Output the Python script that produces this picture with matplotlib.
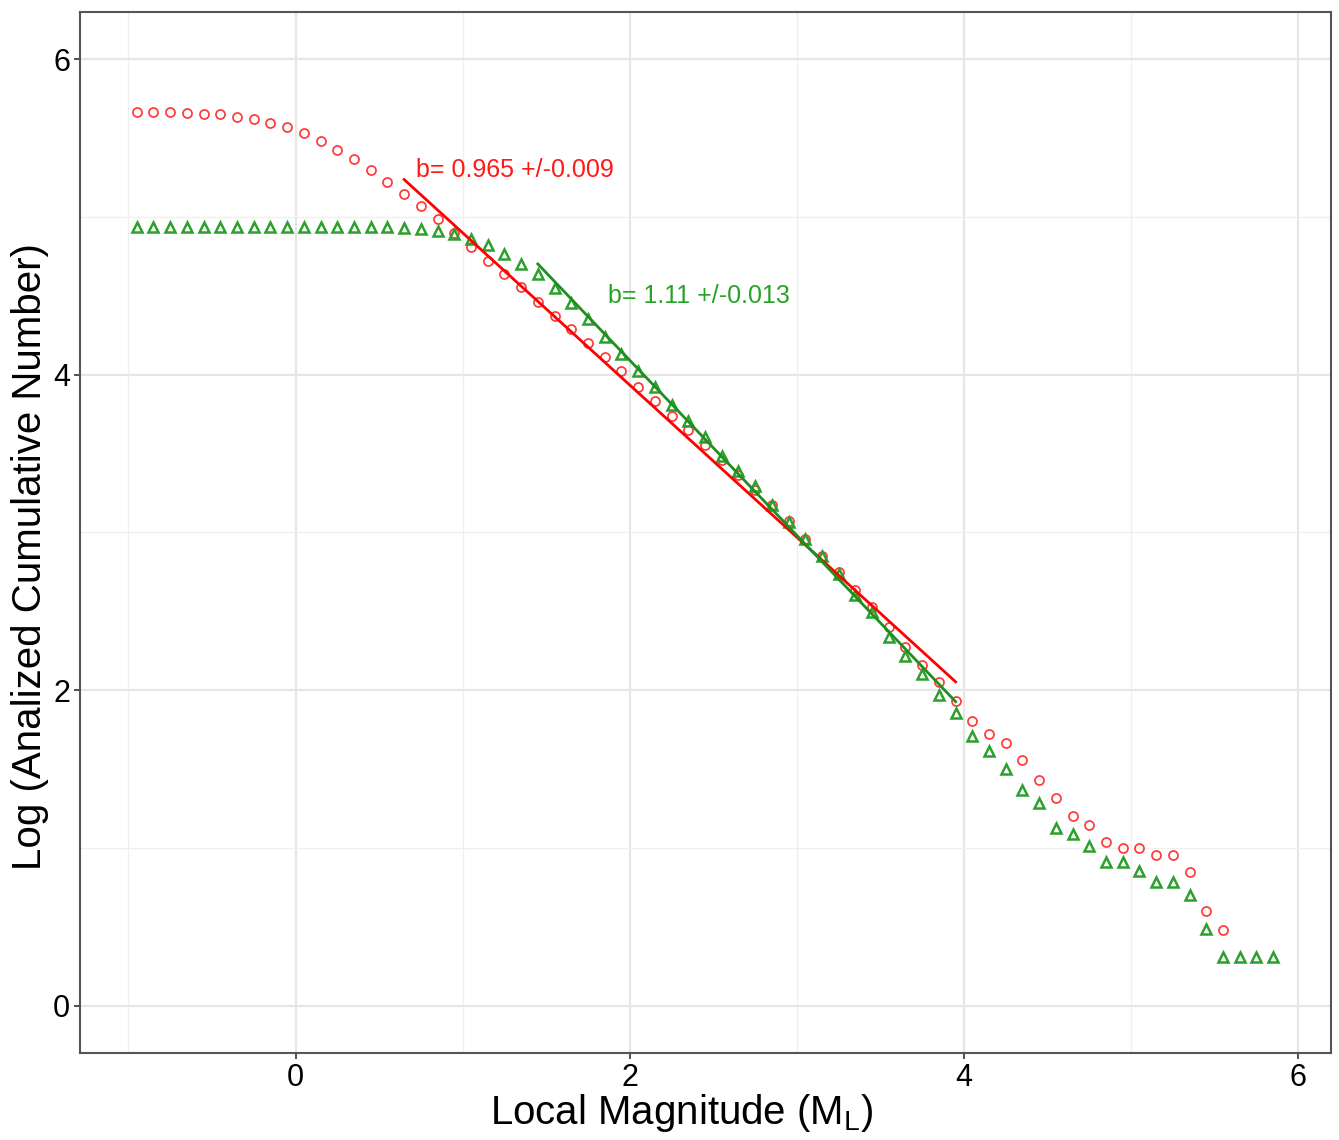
import numpy as np
import matplotlib
matplotlib.use("Agg")
import matplotlib.pyplot as plt

plt.rcParams['font.family'] = ['Liberation Sans', 'DejaVu Sans']
plt.rcParams['mathtext.fontset'] = 'custom'
plt.rcParams['mathtext.rm'] = 'Liberation Sans'

# ---------------- data ----------------
magnitude = [round(-0.95 + 0.1 * i, 2) for i in range(69)]  # -0.95 .. 5.85

red_log_n = [5.663, 5.665, 5.665, 5.660, 5.656, 5.650, 5.637, 5.620, 5.599, 5.570,
             5.532, 5.483, 5.426, 5.365, 5.297, 5.222, 5.146, 5.068, 4.987, 4.897,
             4.808, 4.723, 4.639, 4.555, 4.464, 4.375, 4.289, 4.201, 4.112, 4.021,
             3.922, 3.831, 3.741, 3.647, 3.557, 3.458, 3.367, 3.272, 3.173, 3.072,
             2.960, 2.850, 2.749, 2.633, 2.527, 2.400, 2.274, 2.160, 2.049, 1.930,
             1.806, 1.720, 1.665, 1.557, 1.432, 1.315, 1.204, 1.146, 1.040, 1.000,
             1.000, 0.956, 0.956, 0.846, 0.601, 0.477]

green_log_n = [4.935, 4.935, 4.935, 4.935, 4.935, 4.935, 4.935, 4.935, 4.935, 4.935,
               4.935, 4.935, 4.935, 4.935, 4.935, 4.935, 4.932, 4.922, 4.911, 4.890,
               4.861, 4.820, 4.766, 4.703, 4.639, 4.553, 4.458, 4.352, 4.242, 4.133,
               4.027, 3.920, 3.810, 3.704, 3.606, 3.487, 3.388, 3.293, 3.177, 3.068,
               2.960, 2.852, 2.734, 2.605, 2.494, 2.340, 2.217, 2.101, 1.968, 1.857,
               1.707, 1.612, 1.500, 1.369, 1.285, 1.125, 1.089, 1.011, 0.909, 0.909,
               0.852, 0.787, 0.787, 0.703, 0.487, 0.308, 0.308, 0.308, 0.308]

# Gutenberg-Richter fits: log N = a - b*M
red_fit_a, red_fit_b = 5.865, 0.965
red_fit_range = [0.65, 3.95]
red_label = "b= 0.965 +/-0.009"

green_fit_a, green_fit_b = 6.312, 1.11
green_fit_range = [1.45, 3.95]
green_label = "b= 1.11 +/-0.013"

x_ticks = [0, 2, 4, 6]
y_ticks = [0, 2, 4, 6]

# ---------------- plot ----------------
fig = plt.figure(figsize=(13.39, 11.40), dpi=100)
ax = fig.add_axes([0.0597, 0.0763, 0.9343, 0.9132])

red_pt = "#ff3838"
green_pt = "#2ca02c"

ax.plot(magnitude[:len(red_log_n)], red_log_n, linestyle='none', marker='o',
        markersize=6.5, markerfacecolor='none', markeredgecolor=red_pt,
        markeredgewidth=1.25, zorder=3)
ax.plot(magnitude[:len(green_log_n)], green_log_n, linestyle='none', marker='^',
        markersize=7.8, markerfacecolor='none', markeredgecolor=green_pt,
        markeredgewidth=1.8, zorder=3)

rx = np.array(red_fit_range)
ax.plot(rx, red_fit_a - red_fit_b * rx, color='#ff0000', linewidth=2.0, zorder=4)
gx = np.array(green_fit_range)
ax.plot(gx, green_fit_a - green_fit_b * gx, color='#1f8f1f', linewidth=2.0, zorder=4)

ax.text(0.72, 5.30, red_label, color='#ff1a1a', fontsize=18, va='center', ha='left')
ax.text(1.87, 4.50, green_label, color='#26a326', fontsize=18, va='center', ha='left')

ax.set_xlim(-1.29, 6.196)
ax.set_ylim(-0.3, 6.3)
ax.set_xticks(x_ticks)
ax.set_yticks(y_ticks)
ax.set_xticks([-1, 1, 3, 5], minor=True)
ax.set_yticks([1, 3, 5], minor=True)
ax.grid(True, which='major', color='#e6e6e6', linewidth=1.6)
ax.grid(True, which='minor', color='#efefef', linewidth=0.9)
ax.set_axisbelow(True)
ax.tick_params(which='major', direction='out', length=4, width=1.2,
               color='#333333', labelsize=22, labelcolor='black', pad=3)
ax.tick_params(which='minor', length=0)
for s in ax.spines.values():
    s.set_color('#555555')
    s.set_linewidth(1.5)

ax.set_xlabel(r"Local Magnitude (M$_{\mathrm{L}}$)", fontsize=29)
ax.set_ylabel("Log (Analized Cumulative Number)", fontsize=29)
ax.xaxis.set_label_coords(0.481, -0.037)
ax.yaxis.set_label_coords(-0.025, 0.4765)

fig.savefig("out.png", dpi=100, facecolor='white')
